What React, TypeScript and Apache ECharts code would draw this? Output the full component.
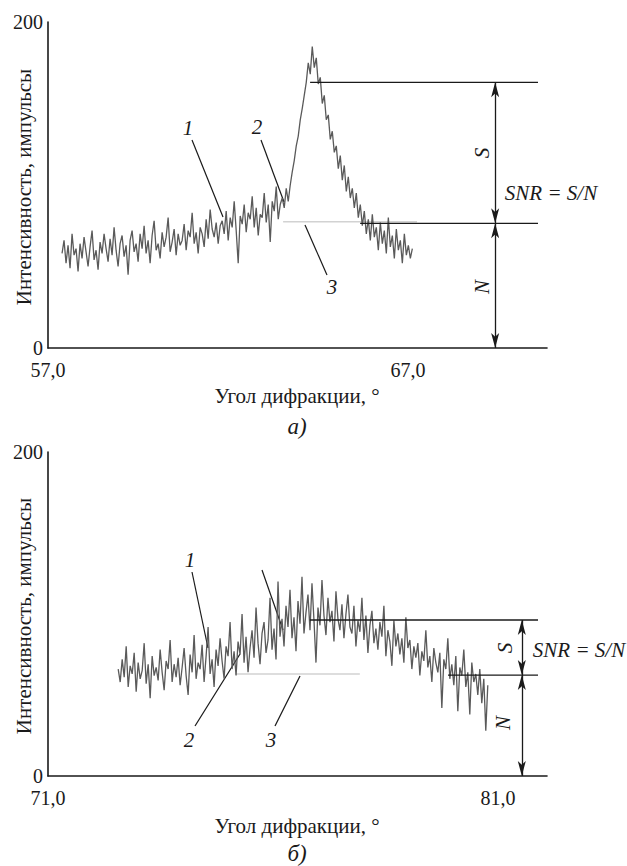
import React, { useEffect, useRef } from "react";
import * as echarts from "echarts";

// ---------- data: chart a) ----------
const topAngleStart = 57.39;
const topAngleStep = 0.0556;
const topIntensity = [
  58, 66, 52, 63, 49, 70, 57, 61, 47, 64,
  55, 68, 59, 50, 62, 72, 54, 60, 48, 65,
  58, 70, 61, 53, 67, 57, 74, 60, 50, 64,
  69, 56, 63, 45, 66, 72, 59, 64, 53, 70,
  61, 75, 58, 66, 52, 69, 78, 60, 64, 55,
  71, 62, 68, 80, 59, 65, 73, 57, 70, 63,
  66, 76, 60, 72, 68, 83, 64, 71, 58, 74,
  70, 62, 79, 67, 85, 73, 68, 77, 64, 75,
  78, 70, 84, 66, 80, 74, 90, 72, 52, 81,
  76, 88, 71, 83, 79, 93, 74, 86, 69, 82,
  80, 95, 77, 88, 65, 90, 84, 99, 79, 88,
  92, 86, 98, 90, 100, 108, 115, 124, 130, 140,
  147, 155, 163, 175, 168, 185, 172, 178, 162, 166,
  150, 155, 140, 143, 128, 133, 120, 124, 110, 118,
  103, 112, 96, 105, 92, 98, 86, 95, 80, 88,
  75, 84, 70, 79, 66, 82, 68, 74, 60, 77,
  64, 72, 58, 80, 62, 69, 55, 73, 60, 66,
  52, 70, 57, 63, 55, 61,
];
const topXRange = [57, 70.86];
const topXTicks = [57, 67];
const topSignal = 163;
const topNoise = 76.5;
const topBaseline = 77.5;
const topSLineFrom = 64.28;
const topNLineFrom = 65.67;
const topLinesTo = 70.61;
const topArrowX = 69.42;
const topBaselineX = [63.53, 67.25];

// ---------- data: chart б) ----------
const botAngleStart = 72.56;
const botAngleStep = 0.0444;
const botIntensity = [
  66, 58, 72, 61, 80, 55, 68, 63, 76, 52,
  70, 60, 65, 82, 57, 69, 48, 74, 62, 67,
  59, 78, 64, 53, 71, 66, 84, 58, 69, 61,
  73, 56, 67, 79, 62, 50, 75, 64, 87, 60,
  70, 66, 81, 58, 74, 92, 63, 72, 55, 78,
  68, 85, 71, 60, 80, 74, 95, 66, 77, 62,
  83, 75, 100, 70, 86, 64, 79, 90, 73, 104,
  82, 69, 88, 95, 76, 84, 110, 78, 91, 72,
  120, 86, 97, 80, 105, 92, 115, 85, 98, 77,
  108, 94, 123, 88, 101, 112, 90, 119, 96, 70,
  104, 93, 121, 99, 87, 110, 95, 102, 83, 114,
  97, 90, 106, 85, 100, 112, 92, 88, 105, 80,
  96, 89, 110, 84, 99, 76, 93, 102, 82, 91,
  78, 95, 86, 105, 74, 90, 83, 68, 96, 80,
  88, 75, 85, 70, 98, 79, 84, 66, 80, 73,
  82, 62, 77, 71, 90, 67, 74, 58, 79, 70,
  64, 76, 42, 72, 66, 85, 60, 69, 56, 74,
  40, 67, 62, 78, 55, 64, 38, 70, 58, 63,
  50, 66, 45, 60, 28, 56,
];
const botXRange = [71, 82.09];
const botXTicks = [71, 81];
const botSignal = 96.3;
const botNoise = 62.3;
const botBaseline = 63;
const botSLineFrom = 76.82;
const botNLineFrom = 79.89;
const botLinesTo = 81.89;
const botArrowX = 81.53;
const botBaselineX = [75.16, 77.93];

const yRange = [0, 200];

const FONT = "Liberation Serif";
const INK = "#1a1a1a";

function pairs(start: number, step: number, vals: number[]) {
  return vals.map((v, i) => [start + i * step, v]);
}

function xAxisFor(idx: number, range: number[], ticks: number[]) {
  return {
    type: "value",
    gridIndex: idx,
    min: range[0],
    max: range[1],
    interval: 1,
    axisLine: { show: true, onZero: false, lineStyle: { color: INK, width: 1.6 } },
    axisTick: { show: false },
    splitLine: { show: false },
    axisLabel: {
      margin: 14,
      color: INK,
      fontFamily: FONT,
      fontSize: 20,
      lineHeight: 15,
      showMaxLabel: false,
      formatter: (v: number) =>
        ticks.some((t) => Math.abs(t - v) < 1e-6) ? v.toFixed(1).replace(".", ",") : "",
    },
  };
}

function yAxisFor(idx: number) {
  return {
    type: "value",
    gridIndex: idx,
    min: yRange[0],
    max: yRange[1],
    interval: 200,
    axisLine: { show: true, lineStyle: { color: INK, width: 1.6 } },
    axisTick: { show: false },
    splitLine: { show: false },
    axisLabel: { margin: 5, color: INK, fontFamily: FONT, fontSize: 20, lineHeight: 15 },
  };
}

function annotationSeries(
  idx: number,
  sig: number,
  noise: number,
  base: number,
  sFrom: number,
  nFrom: number,
  to: number,
  arrowX: number,
  baseX: number[]
) {
  const plain = {
    type: "line",
    xAxisIndex: idx,
    yAxisIndex: idx,
    symbol: "none",
    silent: true,
  };
  return [
    {
      ...plain,
      data: [
        [baseX[0], base],
        [baseX[1], base],
      ],
      lineStyle: { color: "#d2d2d2", width: 1.6 },
      z: 1,
    },
    {
      ...plain,
      data: [
        [sFrom, sig],
        [to, sig],
      ],
      lineStyle: { color: INK, width: 1.3 },
      z: 5,
    },
    {
      ...plain,
      data: [
        [nFrom, noise],
        [to, noise],
      ],
      lineStyle: { color: INK, width: 1.3 },
      z: 5,
      markLine: {
        silent: true,
        symbol: ["arrow", "arrow"],
        symbolSize: [6, 15],
        label: { show: false },
        lineStyle: { color: INK, width: 1.3, type: "solid" },
        data: [
          [{ coord: [arrowX, sig] }, { coord: [arrowX, noise] }],
          [{ coord: [arrowX, noise] }, { coord: [arrowX, 0] }],
        ],
      },
    },
  ];
}

function txt(text: string, x: number, y: number, opts: any = {}) {
  return {
    type: "text",
    x,
    y,
    rotation: opts.rotation || 0,
    style: {
      text,
      fill: INK,
      fontFamily: FONT,
      fontSize: opts.size || 21,
      fontStyle: opts.italic ? "italic" : undefined,
      align: "center",
      verticalAlign: "middle",
    },
  };
}

function seg(x1: number, y1: number, x2: number, y2: number) {
  return {
    type: "line",
    shape: { x1, y1, x2, y2 },
    style: { stroke: INK, lineWidth: 1.2 },
  };
}

export default function App() {
  const ref = useRef<HTMLDivElement>(null);
  useEffect(() => {
    if (!ref.current) return;
    const chart = echarts.init(ref.current, undefined, { renderer: "svg" });
    const dataStyle = {
      type: "line",
      symbol: "none",
      silent: true,
      lineStyle: { color: "#5a5a5a", width: 1.3 },
      z: 3,
    };
    chart.setOption({
      animation: false,
      textStyle: { fontFamily: FONT },
      grid: [
        { left: 48, top: 22, width: 499, height: 326 },
        { left: 48, top: 452, width: 499, height: 324 },
      ],
      xAxis: [xAxisFor(0, topXRange, topXTicks), xAxisFor(1, botXRange, botXTicks)],
      yAxis: [yAxisFor(0), yAxisFor(1)],
      series: [
        {
          ...dataStyle,
          xAxisIndex: 0,
          yAxisIndex: 0,
          data: pairs(topAngleStart, topAngleStep, topIntensity),
        },
        ...annotationSeries(0, topSignal, topNoise, topBaseline, topSLineFrom, topNLineFrom, topLinesTo, topArrowX, topBaselineX),
        {
          ...dataStyle,
          xAxisIndex: 1,
          yAxisIndex: 1,
          data: pairs(botAngleStart, botAngleStep, botIntensity),
        },
        ...annotationSeries(1, botSignal, botNoise, botBaseline, botSLineFrom, botNLineFrom, botLinesTo, botArrowX, botBaselineX),
      ],
      graphic: [
        // chart a)
        txt("Интенсивность, импульсы", 24, 187, { rotation: Math.PI / 2 }),
        txt("Угол дифракции, °", 297, 396),
        txt("а)", 297, 426, { italic: true, size: 23 }),
        txt("1", 188, 128, { italic: true }),
        seg(192, 140, 223, 217),
        txt("2", 257, 127, { italic: true }),
        seg(261, 140, 284, 202),
        txt("3", 332, 287, { italic: true }),
        seg(305, 225, 327, 275),
        txt("S", 482, 153, { italic: true, rotation: Math.PI / 2 }),
        txt("N", 482, 287, { italic: true, rotation: Math.PI / 2 }),
        txt("SNR = S/N", 551, 193, { italic: true }),
        // chart б)
        txt("Интенсивность, импульсы", 24, 616, { rotation: Math.PI / 2 }),
        txt("Угол дифракции, °", 297, 826),
        txt("б)", 297, 853, { italic: true, size: 23 }),
        txt("1", 190, 560, { italic: true }),
        seg(192, 572, 208, 648),
        seg(262, 570, 283, 630),
        txt("2", 189, 740, { italic: true }),
        seg(195, 726, 240, 654),
        txt("3", 271, 740, { italic: true }),
        seg(275, 726, 300, 676),
        txt("S", 505, 648, { italic: true, rotation: Math.PI / 2 }),
        txt("N", 503, 723, { italic: true, rotation: Math.PI / 2 }),
        txt("SNR = S/N", 579, 650, { italic: true }),
      ],
    });
    return () => chart.dispose();
  }, []);
  return <div ref={ref} style={{ position: "absolute", left: 0, top: 0, width: 627, height: 866 }} />;
}
